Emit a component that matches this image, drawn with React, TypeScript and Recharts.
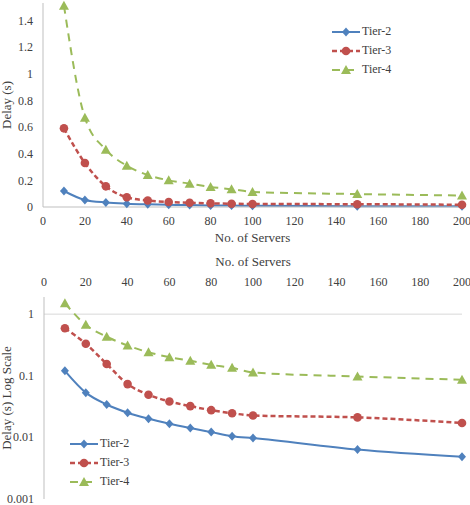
import { LineChart, Line, XAxis, YAxis, Legend, ReferenceLine } from "recharts";

// number of servers on the x axis
const servers = [10, 20, 30, 40, 50, 60, 70, 80, 90, 100, 150, 200];

// delay in seconds
const tier2 = [0.12, 0.053, 0.034, 0.025, 0.02, 0.0166, 0.0141, 0.0121, 0.0104, 0.0097, 0.0063, 0.0048];
const tier3 = [0.59, 0.33, 0.155, 0.073, 0.049, 0.038, 0.032, 0.0275, 0.0245, 0.0225, 0.021, 0.017];
const tier4 = [1.51, 0.67, 0.43, 0.31, 0.24, 0.2, 0.175, 0.15, 0.134, 0.113, 0.097, 0.086];

const xTicks = [0, 20, 40, 60, 80, 100, 120, 140, 160, 180, 200];
const linearTicks = [0, 0.2, 0.4, 0.6, 0.8, 1, 1.2, 1.4];
const logTicks = [0.001, 0.01, 0.1, 1];

const data = servers.map((s, i) => ({
  servers: s,
  tier2: tier2[i],
  tier3: tier3[i],
  tier4: tier4[i],
}));

type Shape = "diamond" | "circle" | "triangle";

const SERIES: { key: string; name: string; color: string; dash?: string; width: number; shape: Shape }[] = [
  { key: "tier2", name: "Tier-2", color: "#4F81BD", width: 2, shape: "diamond" },
  { key: "tier3", name: "Tier-3", color: "#C0504D", dash: "5 3", width: 2.5, shape: "circle" },
  { key: "tier4", name: "Tier-4", color: "#9BBB59", dash: "8 6", width: 2, shape: "triangle" },
];

const FONT = "'Liberation Serif', 'Times New Roman', serif";
const tickStyle = { fontFamily: FONT, fontSize: 12, fill: "#404040" };
const AXIS_GRAY = "#bfbfbf";

function Marker({ shape, cx, cy, color }: { shape: Shape; cx: number; cy: number; color: string }) {
  if (shape === "circle") return <circle cx={cx} cy={cy} r={4.3} fill={color} />;
  if (shape === "diamond")
    return <path d={`M${cx},${cy - 4.5}L${cx + 4},${cy}L${cx},${cy + 4.5}L${cx - 4},${cy}Z`} fill={color} />;
  return <path d={`M${cx},${cy - 5}L${cx + 5},${cy + 4}L${cx - 5},${cy + 4}Z`} fill={color} />;
}

const dotFor = (shape: Shape, color: string) => (props: any) => {
  if (props.cx == null || props.cy == null) return <g key={props.index} />;
  return (
    <g key={props.index}>
      <Marker shape={shape} cx={props.cx} cy={props.cy} color={color} />
    </g>
  );
};

function SeriesLegend() {
  return (
    <div style={{ fontFamily: FONT, fontSize: 12, color: "#404040", lineHeight: "19px" }}>
      {SERIES.map((s) => (
        <div key={s.key} style={{ display: "flex", alignItems: "center", height: 19 }}>
          <svg width={28} height={12} style={{ marginRight: 2 }}>
            <line x1={0} y1={6} x2={28} y2={6} stroke={s.color} strokeWidth={s.width} strokeDasharray={s.dash} />
            <Marker shape={s.shape} cx={14} cy={6} color={s.color} />
          </svg>
          <span>{s.name}</span>
        </div>
      ))}
    </div>
  );
}

function VerticalTitle({ viewBox, text, dx }: any) {
  const x = viewBox.x + dx;
  const y = viewBox.y + viewBox.height / 2;
  return (
    <text
      x={x}
      y={y}
      transform={`rotate(-90 ${x} ${y})`}
      textAnchor="middle"
      dominantBaseline="central"
      fontFamily={FONT}
      fontSize={13}
      fill="#404040"
    >
      {text}
    </text>
  );
}

function HorizontalTitle({ viewBox, text, dy }: any) {
  return (
    <text
      x={viewBox.x + viewBox.width / 2}
      y={viewBox.y + dy}
      textAnchor="middle"
      dominantBaseline="central"
      fontFamily={FONT}
      fontSize={13}
      fill="#404040"
    >
      {text}
    </text>
  );
}

function seriesLines() {
  return SERIES.map((s) => (
    <Line
      key={s.key}
      dataKey={s.key}
      name={s.name}
      type="monotone"
      stroke={s.color}
      strokeWidth={s.width}
      strokeDasharray={s.dash}
      dot={dotFor(s.shape, s.color)}
      activeDot={false}
      isAnimationActive={false}
    />
  ));
}

export default function App() {
  return (
    <div style={{ position: "absolute", left: 0, top: 0, width: 470, height: 505, background: "#fff" }}>
      <LineChart width={470} height={250} data={data} margin={{ top: 3, right: 8, left: 0, bottom: 0 }}>
        <XAxis
          dataKey="servers"
          type="number"
          domain={[0, 200]}
          ticks={xTicks}
          interval={0}
          height={43}
          tick={tickStyle}
          tickLine={false}
          tickSize={0}
          tickMargin={9}
          stroke={AXIS_GRAY}
          label={<HorizontalTitle text="No. of Servers" dy={30} />}
        />
        <YAxis
          type="number"
          domain={[0, 1.53]}
          ticks={linearTicks}
          interval={0}
          width={43}
          tick={tickStyle}
          tickLine={false}
          tickSize={0}
          tickMargin={10}
          stroke={AXIS_GRAY}
          label={<VerticalTitle text="Delay (s)" dx={6} />}
        />
        <Legend
          layout="horizontal"
          verticalAlign="middle"
          align="center"
          wrapperStyle={{ left: 332, top: 22, width: "auto" }}
          content={() => <SeriesLegend />}
        />
        {seriesLines()}
      </LineChart>

      <LineChart width={470} height={255} data={data} margin={{ top: 0, right: 8, left: 0, bottom: 6 }}>
        <XAxis
          dataKey="servers"
          type="number"
          orientation="top"
          domain={[0, 200]}
          ticks={xTicks}
          interval={0}
          height={47}
          tick={tickStyle}
          axisLine={false}
          tickLine={false}
          tickSize={0}
          tickMargin={11}
          label={<HorizontalTitle text="No. of Servers" dy={11} />}
        />
        <YAxis
          type="number"
          scale="log"
          domain={[0.00099, 1.9]}
          allowDataOverflow
          ticks={logTicks}
          interval={0}
          width={44}
          tick={tickStyle}
          tickLine={false}
          tickSize={0}
          tickMargin={10}
          stroke={AXIS_GRAY}
          label={<VerticalTitle text="Delay (s) Log Scale" dx={6} />}
        />
        <ReferenceLine y={1} stroke="#d9d9d9" strokeWidth={1} />
        <Legend
          layout="horizontal"
          verticalAlign="middle"
          align="center"
          wrapperStyle={{ left: 70, top: 184, width: "auto" }}
          content={() => <SeriesLegend />}
        />
        {seriesLines()}
      </LineChart>
    </div>
  );
}
